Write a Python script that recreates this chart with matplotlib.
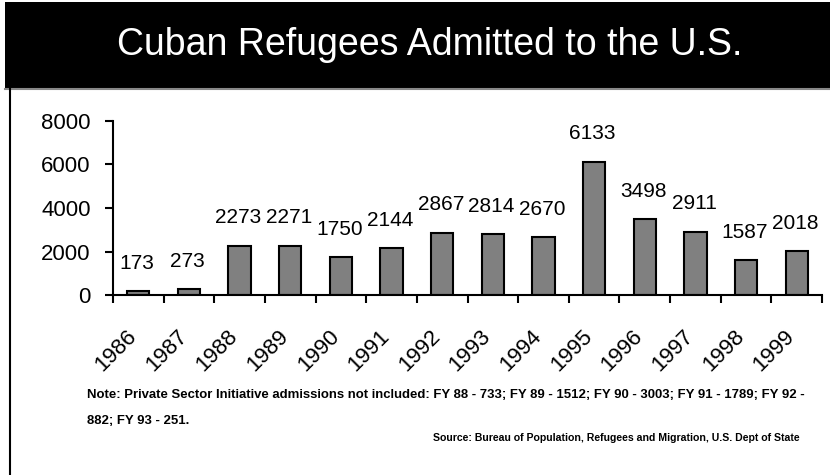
import matplotlib.pyplot as plt
from matplotlib.patches import Rectangle
from matplotlib.lines import Line2D

plt.rcParams['font.family'] = ['Liberation Sans', 'DejaVu Sans']

years = ['1986', '1987', '1988', '1989', '1990', '1991', '1992',
         '1993', '1994', '1995', '1996', '1997', '1998', '1999']
admitted = [173, 273, 2273, 2271, 1750, 2144, 2867,
            2814, 2670, 6133, 3498, 2911, 1587, 2018]
yticks = [0, 2000, 4000, 6000, 8000]

note_1 = ('Note: Private Sector Initiative admissions not included: FY 88 - 733; '
          'FY 89 - 1512; FY 90 - 3003; FY 91 - 1789; FY 92 -')
note_2 = '882; FY 93 - 251.'
source = 'Source: Bureau of Population, Refugees and Migration, U.S. Dept of State'

fig = plt.figure(figsize=(8.3, 4.75), dpi=100)

# black title band and frame line
fig.patches.append(Rectangle((5 / 830, 1 - 88 / 475), 825 / 830, 86 / 475,
                             transform=fig.transFigure, facecolor='black',
                             edgecolor='none'))
fig.lines.append(Line2D([5 / 830, 1], [1 - 89 / 475] * 2, transform=fig.transFigure,
                        color='#888888', lw=1.5))
fig.lines.append(Line2D([10 / 830] * 2, [0, 1 - 88 / 475], transform=fig.transFigure,
                        color='black', lw=1.5))
fig.text(430 / 830, 1 - 45 / 475, 'Cuban Refugees Admitted to the U.S.',
         color='white', fontsize=27, ha='center', va='center')

ax = fig.add_axes([113 / 830, 1 - 295 / 475, 709 / 830, 174 / 475])
x = list(range(len(years)))
ax.bar(x, admitted, width=0.44, color='#808080', edgecolor='black', linewidth=1.5)

for i, v in enumerate(admitted):
    ax.annotate(str(v), (i, v), xytext=(-1, 20), textcoords='offset points',
                ha='center', va='center', fontsize=15)

ax.set_xlim(-0.5, len(years) - 0.5)
ax.set_ylim(0, 8000)
ax.set_yticks(yticks)
ax.set_yticklabels([str(t) for t in yticks], fontsize=16)
ax.set_xticks([i - 0.5 for i in range(len(years) + 1)])
ax.set_xticklabels([])
ax.tick_params(axis='both', direction='out', length=6, width=1.5, color='black')
ax.tick_params(axis='y', pad=10)

for i, yr in enumerate(years):
    ax.annotate(yr, (i, 0), xycoords=('data', 'axes fraction'),
                xytext=(-9, -22), textcoords='offset points',
                rotation=45, rotation_mode='anchor', ha='right', va='top',
                fontsize=16)

for side in ['top', 'right']:
    ax.spines[side].set_visible(False)
for side in ['left', 'bottom']:
    ax.spines[side].set_linewidth(1.5)

fig.text(87 / 830, 1 - 395 / 475, note_1, fontsize=9.45, fontweight='bold',
         ha='left', va='center')
fig.text(87 / 830, 1 - 421 / 475, note_2, fontsize=9.45, fontweight='bold',
         ha='left', va='center')
fig.text(800 / 830, 1 - 438 / 475, source, fontsize=7.6, fontweight='bold',
         ha='right', va='center')

fig.savefig('out.png', dpi=100)
